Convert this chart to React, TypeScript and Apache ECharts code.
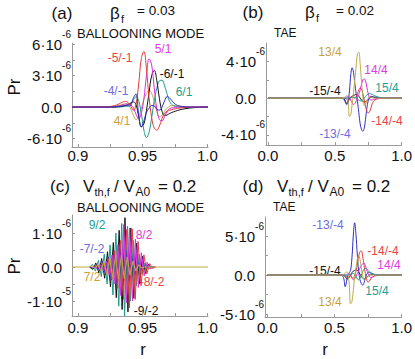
import React, { useEffect, useRef } from 'react';
import * as echarts from 'echarts';

const FONT = '"Liberation Sans", Arial, Helvetica, sans-serif';
const AXIS = '#9a9a9a';
const INK = '#111111';

const RED = '#e33b3b';
const MAG = '#de2ade';
const BLK = '#111111';
const BLU = '#2f2fc6';
const TEAL = '#1c9c8c';
const GOLD = '#bcaa48';

// ---------- panel (a): beta_f = 0.03, ballooning mode ----------
const rA = [0.8955, 0.91, 0.92, 0.926, 0.93, 0.933, 0.935, 0.937, 0.939, 0.941, 0.943, 0.945, 0.947, 0.949, 0.951, 0.953, 0.955, 0.957, 0.959, 0.961, 0.963, 0.965, 0.967, 0.969, 0.971, 0.974, 0.977, 0.981, 0.986, 0.993, 1.0005];
const aRed = [0, 0, 0.02, 0.08, 0.2, 0.38, 0.5, 0.55, 0.4, 0.05, -0.3, 0.3, 2.2, 4.6, 5.3, 3.6, 0.9, -1.0, -2.0, -2.2, -1.8, -1.1, -0.6, -0.4, -0.3, -0.2, -0.12, -0.06, -0.02, 0, 0];
const aMag = [0, 0, 0, 0.02, 0.08, 0.15, 0.22, 0.28, 0.3, 0.2, -0.1, -0.7, -1.1, -0.6, 0.8, 3.0, 4.6, 4.0, 1.8, -0.2, -1.2, -1.3, -0.9, -0.4, -0.15, -0.05, 0, 0, 0, 0, 0];
const aBlack = [0, 0, 0, 0, 0.02, 0.05, 0.1, 0.15, 0.25, 0.4, 0.5, 0.2, -0.9, -1.85, -1.6, -0.3, 1.4, 3.0, 3.5, 2.5, 0.8, -0.4, -0.8, -0.75, -0.6, -0.45, -0.32, -0.2, -0.1, -0.03, 0];
const aTeal = [0, 0, 0, 0, 0, 0.02, 0.04, 0.08, 0.15, 0.35, 0.7, 1.0, 0.6, -0.6, -2.2, -2.9, -2.4, -1.0, 0.6, 1.8, 2.5, 2.55, 2.0, 1.2, 0.5, 0.12, 0.02, 0, 0, 0, 0];
const aBlue = [0, 0, 0, 0.02, 0.05, 0.1, 0.12, 0.15, 0.1, 0.2, 0.9, 1.25, -0.8, -1.9, -1.3, -0.5, -0.1, 0.15, 0.1, -0.2, -0.3, 0, 0.6, 1.0, 0.85, 0.4, 0.15, 0.05, 0, 0, 0];
const aGold = [0, 0, 0, 0.03, 0.1, 0.2, 0.28, 0.3, 0.2, -0.2, -0.8, -1.2, -0.9, -0.1, 0.7, 1.3, 1.6, 1.3, 0.5, -0.4, -0.9, -0.8, -0.4, -0.1, 0.1, 0.15, 0.1, 0.05, 0, 0, 0];

// ---------- panels (b) and (d): TAE, r grid ----------
const rB = [0, 0.5, 0.55, 0.56, 0.57, 0.58, 0.59, 0.6, 0.61, 0.62, 0.63, 0.64, 0.65, 0.66, 0.67, 0.68, 0.69, 0.7, 0.71, 0.72, 0.73, 0.74, 0.75, 0.76, 0.77, 0.78, 0.79, 0.8, 0.83, 0.86, 0.9, 1.0];
const bGold = [0, 0, 0, 0.02, 0.05, 0.15, 0.3, -0.5, -2.0, -1.8, -0.6, 0.6, 2.0, 3.5, 4.8, 5.0, 3.7, 1.8, 0.1, -0.8, -0.7, -0.3, 0, 0.1, 0.1, 0.05, 0.02, 0, 0, 0, 0, 0];
const bBlue = [0, 0, 0, -0.05, -0.1, -0.5, -0.7, -0.3, 0.8, 2.6, 3.3, 2.8, 1.6, 0.5, -0.4, -1.6, -2.8, -3.4, -3.6, -3.3, -2.3, -1.1, -0.3, 0.1, 0.2, 0.15, 0.1, 0.05, 0, 0, 0, 0];
const bMag = [0, 0, 0, 0, 0, 0.05, 0.1, 0.2, 0.1, -0.2, -0.5, -0.7, -0.6, -0.3, 0.1, 0.4, 0.9, 1.5, 2.0, 2.1, 1.9, 1.2, 0.5, 0, -0.2, -0.2, -0.15, -0.1, 0, 0, 0, 0];
const bRed = [0, 0, 0, 0, 0, -0.05, -0.1, -0.3, -0.2, 0.1, 0.2, 0.1, 0, 0.2, 0.5, 0.9, 1.1, 1.0, 0.5, -0.2, -0.9, -1.4, -1.6, -1.5, -1.1, -0.6, -0.35, -0.2, -0.05, 0, 0, 0];
const bTeal = [0, 0, 0, 0, 0, 0, 0, 0, 0.02, 0.05, 0.08, 0.1, 0.05, 0, -0.1, -0.2, -0.3, -0.3, -0.2, 0, 0.2, 0.35, 0.45, 0.5, 0.45, 0.4, 0.32, 0.25, 0.1, 0.03, 0, 0];
const bBlack = [0, 0, 0, -0.05, -0.1, -0.35, -0.6, -0.4, 0, 0.1, 0.2, 0.3, 0.35, 0.4, 0.35, 0.2, 0, -0.2, -0.35, -0.4, -0.4, -0.3, -0.15, 0, 0.1, 0.15, 0.12, 0.1, 0.05, 0, 0, 0];

const dGold = [0, 0, 0, 0, 0.1, 0.3, 0.4, 0.1, -1.2, -3.7, -3.4, -2.0, -0.3, 0.9, 2.0, 2.5, 2.0, 0.9, 0, -0.5, -0.5, -0.3, -0.1, 0, 0, 0, 0, 0, 0, 0, 0, 0];
const dBlue = [0, 0, 0, -0.1, -0.5, -1.5, -0.8, 0.1, 0.3, 0.6, 2.2, 5.0, 6.7, 5.2, 2.6, 0.5, -0.6, -1.1, -1.3, -1.0, -0.4, 0.1, 0.3, 0.35, 0.3, 0.2, 0.12, 0.08, 0.02, 0, 0, 0];
const dRed = [0, 0, 0, 0, 0, -0.1, -0.2, -0.3, -0.2, 0, -0.3, -0.4, -0.1, 0.5, 1.4, 2.4, 3.0, 3.1, 2.4, 1.3, 0.2, -0.6, -0.9, -0.8, -0.5, -0.3, -0.15, -0.1, -0.03, 0, 0, 0];
const dMag = [0, 0, 0, 0, 0, 0, 0, 0.1, 0.2, 0, -0.4, -0.6, -0.5, -0.2, 0.2, 0.5, 0.9, 1.2, 1.45, 1.5, 1.2, 0.7, 0.2, -0.15, -0.3, -0.3, -0.2, -0.1, 0, 0, 0, 0];
const dTeal = [0, 0, 0, 0, 0, 0, 0, 0, 0.05, 0.1, 0.15, 0.2, 0.1, -0.2, -0.5, -0.6, -0.4, 0, 0.4, 0.75, 0.85, 0.8, 0.6, 0.4, 0.25, 0.15, 0.1, 0.05, 0.01, 0, 0, 0];
const dBlack = [0, 0, 0, 0, -0.05, -0.2, -0.45, -0.5, -0.3, 0, 0.3, 0.5, 0.6, 0.7, 0.6, 0.4, 0.1, -0.2, -0.4, -0.5, -0.45, -0.3, -0.15, 0, 0.1, 0.1, 0.08, 0.05, 0.01, 0, 0, 0];

// ---------- panel (c): V_th,f / V_A0 = 0.2, ballooning mode (turning points) ----------
const cBlackR = [0.909, 0.9117, 0.9139, 0.9162, 0.9184, 0.9207, 0.9229, 0.9252, 0.9274, 0.9297, 0.9319, 0.9342, 0.9364, 0.9387, 0.9409, 0.9432, 0.9454, 0.9477, 0.9499, 0.9522, 0.9544, 0.9567, 0.959];
const cBlackV = [0, -0.07, 0.12, -0.17, 0.25, -0.33, 0.45, -0.58, 0.72, -0.9, 1.08, -1.25, 1.45, -1.32, 1.15, -0.92, 0.7, -0.5, 0.32, -0.19, 0.09, -0.03, 0];
const cTealR = [0.909, 0.9114, 0.9136, 0.9159, 0.9181, 0.9204, 0.9226, 0.9249, 0.9271, 0.9294, 0.9316, 0.9339, 0.9361, 0.9384, 0.9406, 0.9429, 0.9451, 0.9474, 0.9496, 0.9519, 0.9541, 0.9564, 0.9585];
const cTealV = [0, 0.08, -0.12, 0.2, -0.28, 0.38, -0.5, 0.65, -0.82, 1.0, -1.15, 1.28, -1.44, 1.2, -1.0, 0.78, -0.55, 0.38, -0.22, 0.12, -0.05, 0.02, 0];
const cRedR = [0.912, 0.915, 0.9173, 0.9195, 0.9218, 0.924, 0.9263, 0.9285, 0.9308, 0.933, 0.9353, 0.9375, 0.9398, 0.942, 0.9443, 0.9465, 0.9488, 0.951, 0.9533, 0.9555, 0.9578, 0.96];
const cRedV = [0, 0.05, -0.08, 0.12, -0.18, 0.26, -0.36, 0.48, -0.62, 0.78, -0.95, 1.1, -1.2, 1.12, -0.95, 0.75, -0.55, 0.36, -0.2, 0.1, -0.04, 0];
const cMagR = [0.9125, 0.9152, 0.9175, 0.9197, 0.922, 0.9242, 0.9265, 0.9287, 0.931, 0.9332, 0.9355, 0.9377, 0.94, 0.9422, 0.9445, 0.9467, 0.949, 0.9512, 0.9535, 0.9557, 0.958, 0.9602];
const cMagV = [0, -0.04, 0.07, -0.11, 0.17, -0.25, 0.36, -0.5, 0.66, -0.84, 1.25, -1.05, 1.15, -1.0, 0.82, -0.6, 0.42, -0.26, 0.14, -0.06, 0.02, 0];
const cBlueR = [0.9095, 0.9123, 0.9145, 0.9168, 0.919, 0.9213, 0.9235, 0.9258, 0.928, 0.9303, 0.9325, 0.9348, 0.937, 0.9393, 0.9415, 0.9438, 0.946, 0.9483, 0.9505, 0.9528, 0.955];
const cBlueV = [0, -0.04, 0.07, -0.11, 0.16, -0.22, 0.3, -0.38, 0.46, -0.52, 0.56, -0.55, 0.5, -0.42, 0.33, -0.24, 0.16, -0.1, 0.05, -0.02, 0];
const cGoldR = [0.8955, 0.909, 0.9111, 0.9133, 0.9156, 0.9178, 0.9201, 0.9223, 0.9246, 0.9268, 0.9291, 0.9313, 0.9336, 0.9358, 0.9381, 0.9403, 0.9426, 0.9448, 0.9471, 0.9493, 0.9515, 1.0005];
const cGoldV = [0, 0, 0.03, -0.05, 0.08, -0.12, 0.16, -0.21, 0.26, -0.3, 0.34, -0.36, 0.36, -0.34, 0.3, -0.24, 0.18, -0.12, 0.07, -0.03, 0, 0];

// ---------- ticks and tick labels ----------
const xTicksNear1 = [0.9, 0.925, 0.95, 0.975, 1.0];
const xLabelValsNear1 = [0.9, 0.95, 1.0];
const xLabelsNear1 = ['0.9', '0.95', '1.0'];
const xTicksFull = [0, 0.25, 0.5, 0.75, 1.0];
const xLabelValsFull = [0, 0.5, 1.0];
const xLabelsFull = ['0.0', '0.5', '1.0'];

const yTicksA = [-3, -1.5, 0, 1.5, 3, 4.5, 6];
const yLabelValsA = [-3, 0, 3, 6];
const yLabelsA = [['-6·10', '-6'], ['0.0', ''], ['3·10', '-6'], ['6·10', '-6']];
const yTicksB = [-4, -2, 0, 2, 4];
const yLabelValsB = [-4, 0, 4];
const yLabelsB = [['-4·10', '-6'], ['0.0', ''], ['4·10', '-6']];
const yTicksC = [-1, -0.5, 0, 0.5, 1];
const yLabelValsC = [-1, 0, 1];
const yLabelsC = [['-1·10', '-5'], ['0.0', ''], ['1·10', '-6']];
const yTicksD = [-5, -2.5, 0, 2.5, 5];
const yLabelValsD = [-5, 0, 5];
const yLabelsD = [['-5·10', '-6'], ['0.0', ''], ['5·10', '-6']];

// ---------- curve annotations ----------
const curveLabels = [
  { t: '-5/-1', x: 120, y: 58, c: '#e44646' },
  { t: '5/1', x: 163, y: 49, c: '#e03ce0' },
  { t: '-6/-1', x: 172, y: 74, c: INK },
  { t: '-4/-1', x: 116, y: 91, c: '#6d6de0' },
  { t: '6/1', x: 184, y: 92, c: '#21a091' },
  { t: '4/1', x: 122, y: 121, c: '#c9a23a' },
  { t: '13/4', x: 330, y: 52, c: '#c9a23a' },
  { t: '14/4', x: 376, y: 70, c: '#e03ce0' },
  { t: '-15/-4', x: 325, y: 91, c: INK },
  { t: '15/4', x: 387, y: 88, c: '#21a091' },
  { t: '-14/-4', x: 387, y: 121, c: '#e44646' },
  { t: '-13/-4', x: 335, y: 134, c: '#6d6de0' },
  { t: '9/2', x: 97, y: 225, c: '#21a091' },
  { t: '8/2', x: 144, y: 235, c: '#e03ce0' },
  { t: '-7/-2', x: 92, y: 249, c: '#6d6de0' },
  { t: '7/2', x: 92, y: 277, c: '#c9a23a' },
  { t: '-8/-2', x: 152, y: 282, c: '#e44646' },
  { t: '-9/-2', x: 146, y: 311, c: INK },
  { t: '-13/-4', x: 328, y: 225, c: '#6d6de0' },
  { t: '-14/-4', x: 383, y: 251, c: '#e44646' },
  { t: '14/4', x: 389, y: 265, c: '#e03ce0' },
  { t: '-15/-4', x: 325, y: 271, c: INK },
  { t: '15/4', x: 377, y: 291, c: '#21a091' },
  { t: '13/4', x: 330, y: 302, c: '#c9a23a' },
];

const zip = (xs: number[], ys: number[]) => xs.map((x, i) => [x, ys[i]]);

const findLabel = (vals: number[], labels: any[], v: number) => {
  const i = vals.findIndex((t) => Math.abs(t - v) < 1e-9);
  return i < 0 ? null : labels[i];
};

const line = (grid: number, data: number[][], color: string, smooth: boolean | number = 0.4) => ({
  type: 'line',
  xAxisIndex: grid,
  yAxisIndex: grid,
  data,
  symbol: 'none',
  showSymbol: false,
  smooth,
  silent: true,
  lineStyle: { color, width: 1 },
  itemStyle: { color },
});

const xAxis = (grid: number, min: number, max: number, ticks: number[], vals: number[], labels: string[], margin: number) => ({
  gridIndex: grid,
  type: 'value',
  min,
  max,
  axisLine: { show: true, onZero: false, lineStyle: { color: AXIS, width: 1 } },
  axisTick: { show: true, inside: true, length: 3, customValues: ticks, lineStyle: { color: AXIS } },
  splitLine: { show: false },
  axisLabel: {
    customValues: vals,
    formatter: (v: number) => findLabel(vals, labels, v) ?? '',
    color: INK,
    fontSize: 15,
    fontFamily: FONT,
    margin,
  },
});

const yAxis = (grid: number, min: number, max: number, ticks: number[], vals: number[], labels: string[][]) => ({
  gridIndex: grid,
  type: 'value',
  min,
  max,
  axisLine: { show: true, onZero: false, lineStyle: { color: AXIS, width: 1 } },
  axisTick: { show: true, inside: true, length: 3, customValues: ticks, lineStyle: { color: AXIS } },
  splitLine: { show: false },
  axisLabel: {
    customValues: vals,
    margin: 1,
    formatter: (v: number) => {
      const l = findLabel(vals, labels, v);
      if (!l) return '';
      return l[1] ? `{m|${l[0]}}{e|${l[1]}}` : `{m|${l[0]}}{z| }`;
    },
    rich: {
      m: { fontSize: 15, fontFamily: FONT, color: INK, lineHeight: 30 },
      e: { fontSize: 10, fontFamily: FONT, color: INK, lineHeight: 10, verticalAlign: 'top' },
      z: { fontSize: 10, fontFamily: FONT, width: 9, lineHeight: 10 },
    },
  },
});

const txt = (text: string, x: number, y: number, size: number, fill = INK, align = 'left', extra: any = {}) => ({
  type: 'text',
  x,
  y,
  silent: true,
  ...extra,
  style: { text, x: 0, y: 0, fontSize: size, fontFamily: FONT, fill, align, verticalAlign: 'middle' },
});

const vTitle = (x: number, y: number) => [
  txt('V', x, y, 17),
  txt('th,f', x + 11.5, y + 6, 11),
  txt('/ V', x + 31, y, 17),
  txt('A0', x + 52.5, y + 6, 12),
  txt('= 0.2', x + 75, y, 17),
];

export default function App() {
  const ref = useRef<HTMLDivElement>(null);
  useEffect(() => {
    if (!ref.current) return;
    const chart = echarts.init(ref.current, undefined, { renderer: 'svg' });
    const graphics: any[] = [
      txt('(a)', 62, 13, 17, INK, 'center'),
      txt('β', 110, 13, 17),
      txt('f', 121, 19, 11),
      txt('= 0.03', 137, 10, 13.5),
      txt('BALLOONING MODE', 77, 33, 13),
      txt('(b)', 253, 12, 17, INK, 'center'),
      txt('β', 305, 12, 17),
      txt('f', 316, 18, 11),
      txt('= 0.02', 336, 10, 13.5),
      txt('TAE', 274, 33, 12),
      txt('(c)', 60, 186, 17, INK, 'center'),
      ...vTitle(83, 186),
      txt('BALLOONING MODE', 77, 207, 13),
      txt('(d)', 253, 186, 17, INK, 'center'),
      ...vTitle(277, 186),
      txt('TAE', 273, 207, 12),
      txt('Pr', 14, 87, 17, INK, 'center', { rotation: Math.PI / 2 }),
      txt('Pr', 14, 266, 17, INK, 'center', { rotation: Math.PI / 2 }),
      txt('r', 143, 349, 17, INK, 'center'),
      txt('r', 325, 349, 17, INK, 'center'),
      ...curveLabels.map((l) => txt(l.t, l.x, l.y, 12, l.c, 'center')),
    ];
    chart.setOption({
      animation: false,
      backgroundColor: '#ffffff',
      grid: [
        { left: 72, top: 43, width: 136, height: 104 },
        { left: 266, top: 43, width: 136, height: 102 },
        { left: 72, top: 215, width: 136, height: 101 },
        { left: 265, top: 217, width: 137, height: 100 },
      ],
      xAxis: [
        xAxis(0, 0.8955, 1.0005, xTicksNear1, xLabelValsNear1, xLabelsNear1, 1),
        xAxis(1, -0.015, 1.0, xTicksFull, xLabelValsFull, xLabelsFull, 3),
        xAxis(2, 0.8955, 1.0005, xTicksNear1, xLabelValsNear1, xLabelsNear1, 4),
        xAxis(3, -0.018, 1.0, xTicksFull, xLabelValsFull, xLabelsFull, 3),
      ],
      yAxis: [
        yAxis(0, -3.8, 6.1, yTicksA, yLabelValsA, yLabelsA),
        yAxis(1, -5.1, 6.0, yTicksB, yLabelValsB, yLabelsB),
        yAxis(2, -1.44, 1.53, yTicksC, yLabelValsC, yLabelsC),
        yAxis(3, -5.38, 7.44, yTicksD, yLabelValsD, yLabelsD),
      ],
      series: [
        line(0, zip(rA, aGold), GOLD),
        line(0, zip(rA, aTeal), TEAL),
        line(0, zip(rA, aBlack), BLK),
        line(0, zip(rA, aMag), MAG),
        line(0, zip(rA, aRed), RED),
        line(0, zip(rA, aBlue), BLU),

        line(1, zip(rB, bBlack), BLK),
        line(1, zip(rB, bBlue), BLU),
        line(1, zip(rB, bRed), RED),
        line(1, zip(rB, bMag), MAG),
        line(1, zip(rB, bTeal), TEAL),
        line(1, zip(rB, bGold), GOLD),

        line(2, zip(cBlackR, cBlackV), BLK, false),
        line(2, zip(cTealR, cTealV), TEAL, false),
        line(2, zip(cBlueR, cBlueV), BLU, false),
        line(2, zip(cRedR, cRedV), RED, false),
        line(2, zip(cMagR, cMagV), MAG, false),
        line(2, zip(cGoldR, cGoldV), GOLD, false),

        line(3, zip(rB, dBlack), BLK),
        line(3, zip(rB, dBlue), BLU),
        line(3, zip(rB, dRed), RED),
        line(3, zip(rB, dMag), MAG),
        line(3, zip(rB, dTeal), TEAL),
        line(3, zip(rB, dGold), GOLD),
      ],
      graphic: { elements: graphics },
    });
    return () => chart.dispose();
  }, []);
  return (
    <div
      ref={ref}
      style={{ position: 'fixed', left: 0, top: 0, width: 415, height: 359, background: '#fff' }}
    />
  );
}
